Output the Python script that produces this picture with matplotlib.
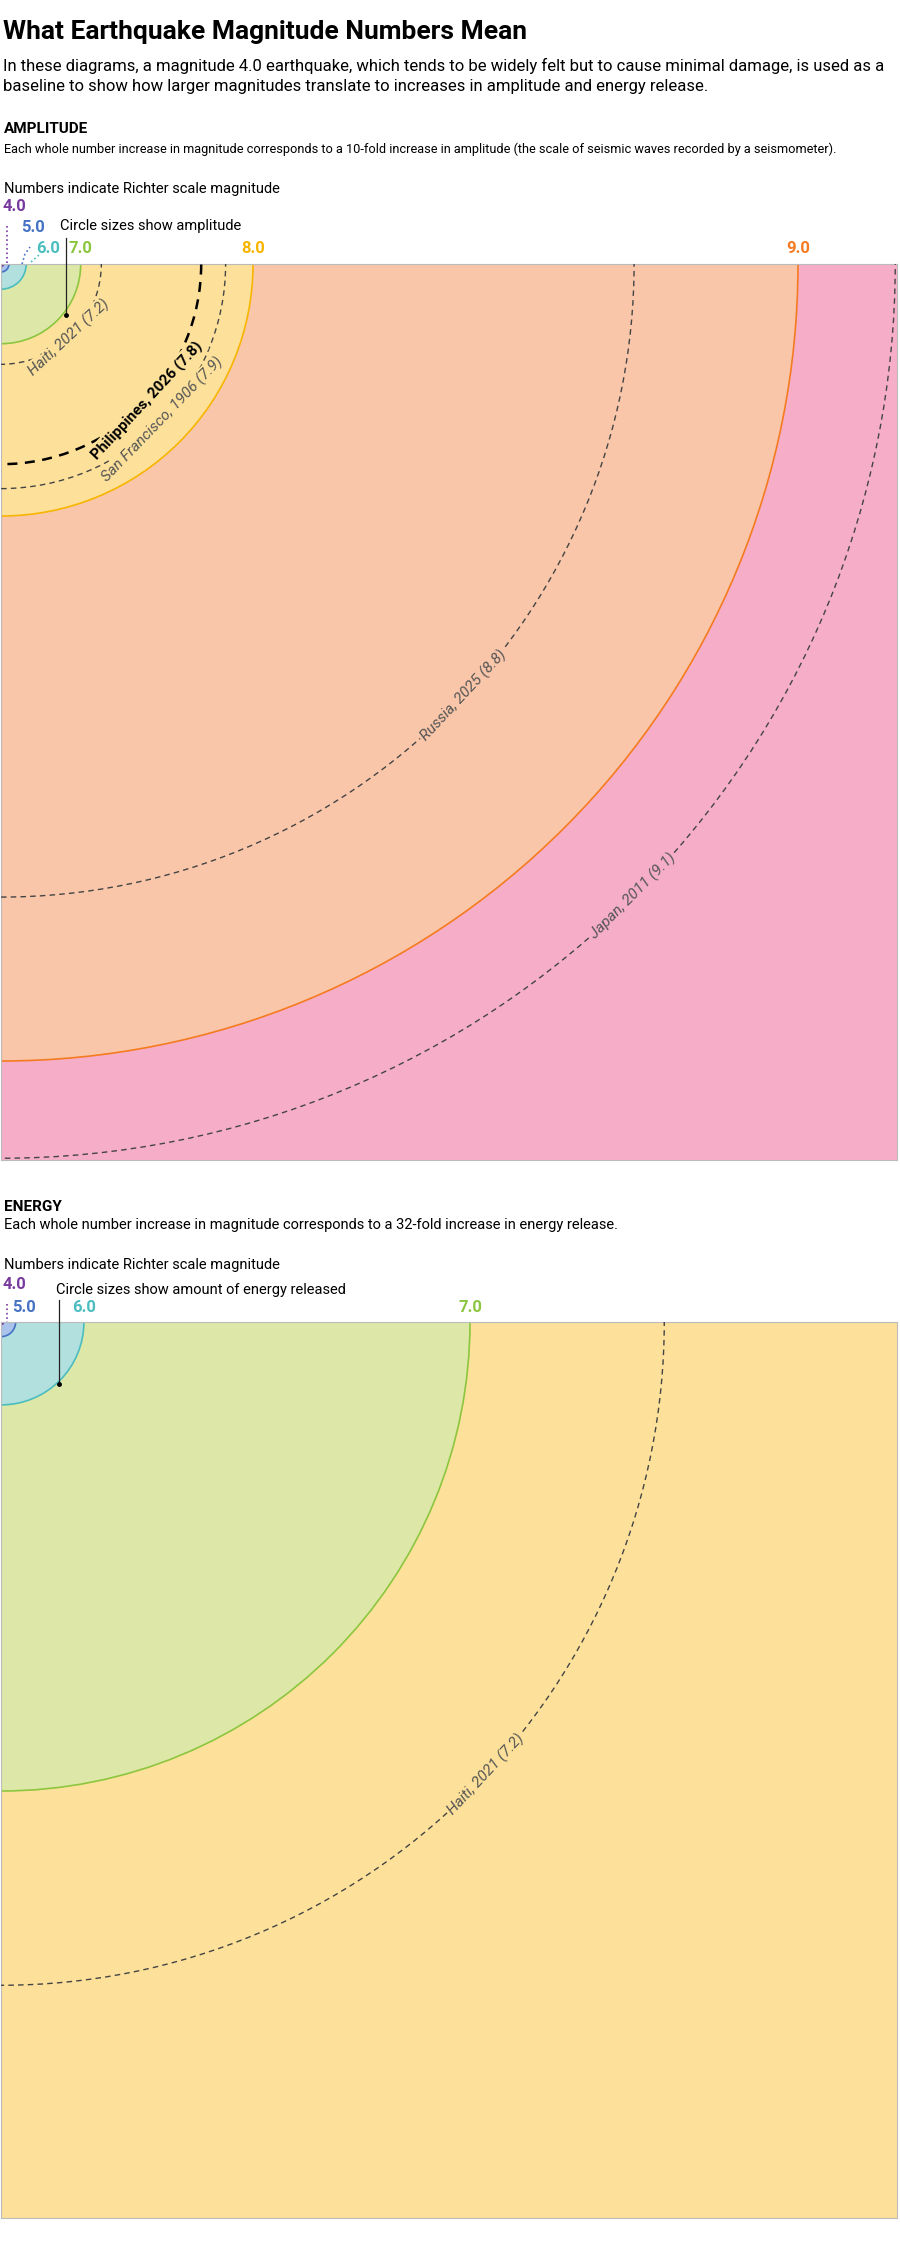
import numpy as np
import matplotlib
matplotlib.use("Agg")
import matplotlib.pyplot as plt
from matplotlib.patches import Circle
from matplotlib import font_manager

names = {f.name for f in font_manager.fontManager.ttflist}
NARROW = 'Liberation Sans Narrow' if 'Liberation Sans Narrow' in names else 'Roboto'
plt.rcParams['font.family'] = [NARROW, 'DejaVu Sans']

# ---- data ----
magnitudes = [4.0, 5.0, 6.0, 7.0, 8.0, 9.0]
mag_labels = ["4.0", "5.0", "6.0", "7.0", "8.0", "9.0"]
mag_line = ['#7a3b9e', '#4572c4', '#4bbdbf', '#8cc63f', '#f7b500', '#f47b20']
mag_fill = ['#c7b2dc', '#a9c3ea', '#b1e0df', '#dde8a8', '#fde19a', '#f9c6a9']
outer_fill_amp = '#f6aec8'   # magnitude 10 region
quake_names = ["Haiti, 2021 (7.2)", "Philippines, 2026 (7.8)", "San Francisco, 1906 (7.9)",
               "Russia, 2025 (8.8)", "Japan, 2011 (9.1)"]
quake_mags = [7.2, 7.8, 7.9, 8.8, 9.1]
quake_angle_amp = [47, 43, 44, 43, 45]
energy_quakes = ["Haiti, 2021 (7.2)"]
energy_quake_mags = [7.2]
energy_angle = [43]

AMP_FACTOR = 10.0   # per magnitude (area scaled)
ENERGY_FACTOR = 32.0
R9_AMP = 797.0      # px radius of magnitude 9 circle in amplitude panel
R7_EN = 469.0       # px radius of magnitude 7 circle in energy panel

W, H = 900, 2243
fig = plt.figure(figsize=(W/100, H/100), dpi=100)

def ftext(x, y, s, **kw):
    fig.text(x/W, 1 - y/H, s, **kw)

ftext(3, 32, "What Earthquake Magnitude Numbers Mean", fontsize=19, fontweight='bold', va='center', family=['Roboto', 'DejaVu Sans'])
ftext(3, 66, "In these diagrams, a magnitude 4.0 earthquake, which tends to be widely felt but to cause minimal damage, is used as a", fontsize=12, va='center', family=['Roboto', 'DejaVu Sans'])
ftext(3, 86, "baseline to show how larger magnitudes translate to increases in amplitude and energy release.", fontsize=12, va='center', family=['Roboto', 'DejaVu Sans'])

def panel(top, kind):
    ax = fig.add_axes([1/W, 1 - (top + 896)/H, 896/W, 896/H])
    ax.set_xlim(0, 896); ax.set_ylim(896, 0)
    ax.set_xticks([]); ax.set_yticks([])
    for s in ax.spines.values():
        s.set_color('#bbbbbb'); s.set_linewidth(0.8)
    if kind == 'amp':
        radius = lambda m: R9_AMP * np.sqrt(AMP_FACTOR) ** (m - 9)
        ax.set_facecolor(outer_fill_amp)
        mags = magnitudes
    else:
        radius = lambda m: R7_EN * np.sqrt(ENERGY_FACTOR) ** (m - 7)
        ax.set_facecolor(mag_fill[4])
        mags = magnitudes[:4]
    for i in reversed(range(len(mags))):
        m = mags[i]
        ax.add_patch(Circle((0, 0), radius(m), facecolor=mag_fill[i], edgecolor=mag_line[i], lw=1.2, zorder=2))
    return ax, radius

# ---------- AMPLITUDE ----------
ftext(4, 129, "AMPLITUDE", fontsize=11, fontweight='bold', va='center')
ftext(4, 149, "Each whole number increase in magnitude corresponds to a 10-fold increase in amplitude (the scale of seismic waves recorded by a seismometer).", fontsize=9.2, va='center')
ftext(4, 189, "Numbers indicate Richter scale magnitude", fontsize=10.5, va='center')
ftext(60, 226, "Circle sizes show amplitude", fontsize=10.5, va='center')
ax, rad = panel(264, 'amp')

def qlabel(ax, r, ang, s, bold=False, color='#555555', bg=None):
    t = np.deg2rad(ang)
    ax.text(r*np.cos(t), r*np.sin(t), s, rotation=90-ang, rotation_mode='anchor',
            ha='center', va='center', fontsize=11, style='italic' if not bold else 'normal',
            fontweight='bold' if bold else 'normal', color=color, zorder=5,
            bbox=dict(facecolor=bg, edgecolor='none', pad=1.5) if bg else None)

amp_bgs = [mag_fill[4], mag_fill[4], mag_fill[4], mag_fill[5], outer_fill_amp]
for n, m, a, bg in zip(quake_names, quake_mags, quake_angle_amp, amp_bgs):
    r = rad(m)
    bold = n.startswith("Philippines")
    ax.add_patch(Circle((0, 0), r, fill=False, edgecolor='black' if bold else '#444444',
                        lw=1.8 if bold else 1.0, linestyle=(0, (4, 3)), zorder=4))
    qlabel(ax, r, a, n, bold=bold, color='black' if bold else '#555555', bg=bg)

lab_pos = {4.0: (13, -50), 5.0: (32, -29), 6.0: (47, -8)}
for i, m in enumerate(magnitudes):
    if m in lab_pos:
        x, y = lab_pos[m]
    else:
        x, y = rad(m), -8
    ax.text(x, y, mag_labels[i], color=mag_line[i], fontsize=12, fontweight='bold',
            ha='center', va='bottom', clip_on=False)
ax.plot([6, 6], [-38, 0], ls=':', color=mag_line[0], lw=1.2, clip_on=False, zorder=6)
ax.plot([21, 24, 29], [0, -10, -17], ls=':', color=mag_line[1], lw=1.2, clip_on=False, zorder=6)
ax.plot([30, 38], [-2, -9], ls=':', color=mag_line[2], lw=1.2, clip_on=False, zorder=6)
ax.plot([65, 65], [-26, 51], color='#222222', lw=0.9, clip_on=False, zorder=6)
ax.plot([65], [51], 'o', color='black', ms=2.5, zorder=6)

# ---------- ENERGY ----------
ftext(4, 1207, "ENERGY", fontsize=11, fontweight='bold', va='center')
ftext(4, 1225, "Each whole number increase in magnitude corresponds to a 32-fold increase in energy release.", fontsize=10.5, va='center')
ftext(4, 1265, "Numbers indicate Richter scale magnitude", fontsize=10.5, va='center')
ftext(56, 1290, "Circle sizes show amount of energy released", fontsize=10.5, va='center')
ax2, rad2 = panel(1322, 'en')
for n, m, a in zip(energy_quakes, energy_quake_mags, energy_angle):
    r = rad2(m)
    ax2.add_patch(Circle((0, 0), r, fill=False, edgecolor='#444444', lw=1.0, linestyle=(0, (4, 3)), zorder=4))
    qlabel(ax2, r, a, n, bg=mag_fill[4])
lab_pos2 = {4.0: (13, -24), 5.0: (23, -1)}
for i, m in enumerate(magnitudes[:4]):
    if m in lab_pos2:
        x, y = lab_pos2[m]
        y = y - 6
    else:
        x, y = rad2(m), -7
    ax2.text(x, y, mag_labels[i], color=mag_line[i], fontsize=12, fontweight='bold',
             ha='center', va='bottom', clip_on=False)
ax2.plot([6, 6], [-18, 0], ls=':', color=mag_line[0], lw=1.2, clip_on=False, zorder=6)
ax2.plot([58, 58], [-22, 62], color='#222222', lw=0.9, clip_on=False, zorder=6)
ax2.plot([58], [62], 'o', color='black', ms=2.5, zorder=6)

fig.savefig("out.png", dpi=100)
